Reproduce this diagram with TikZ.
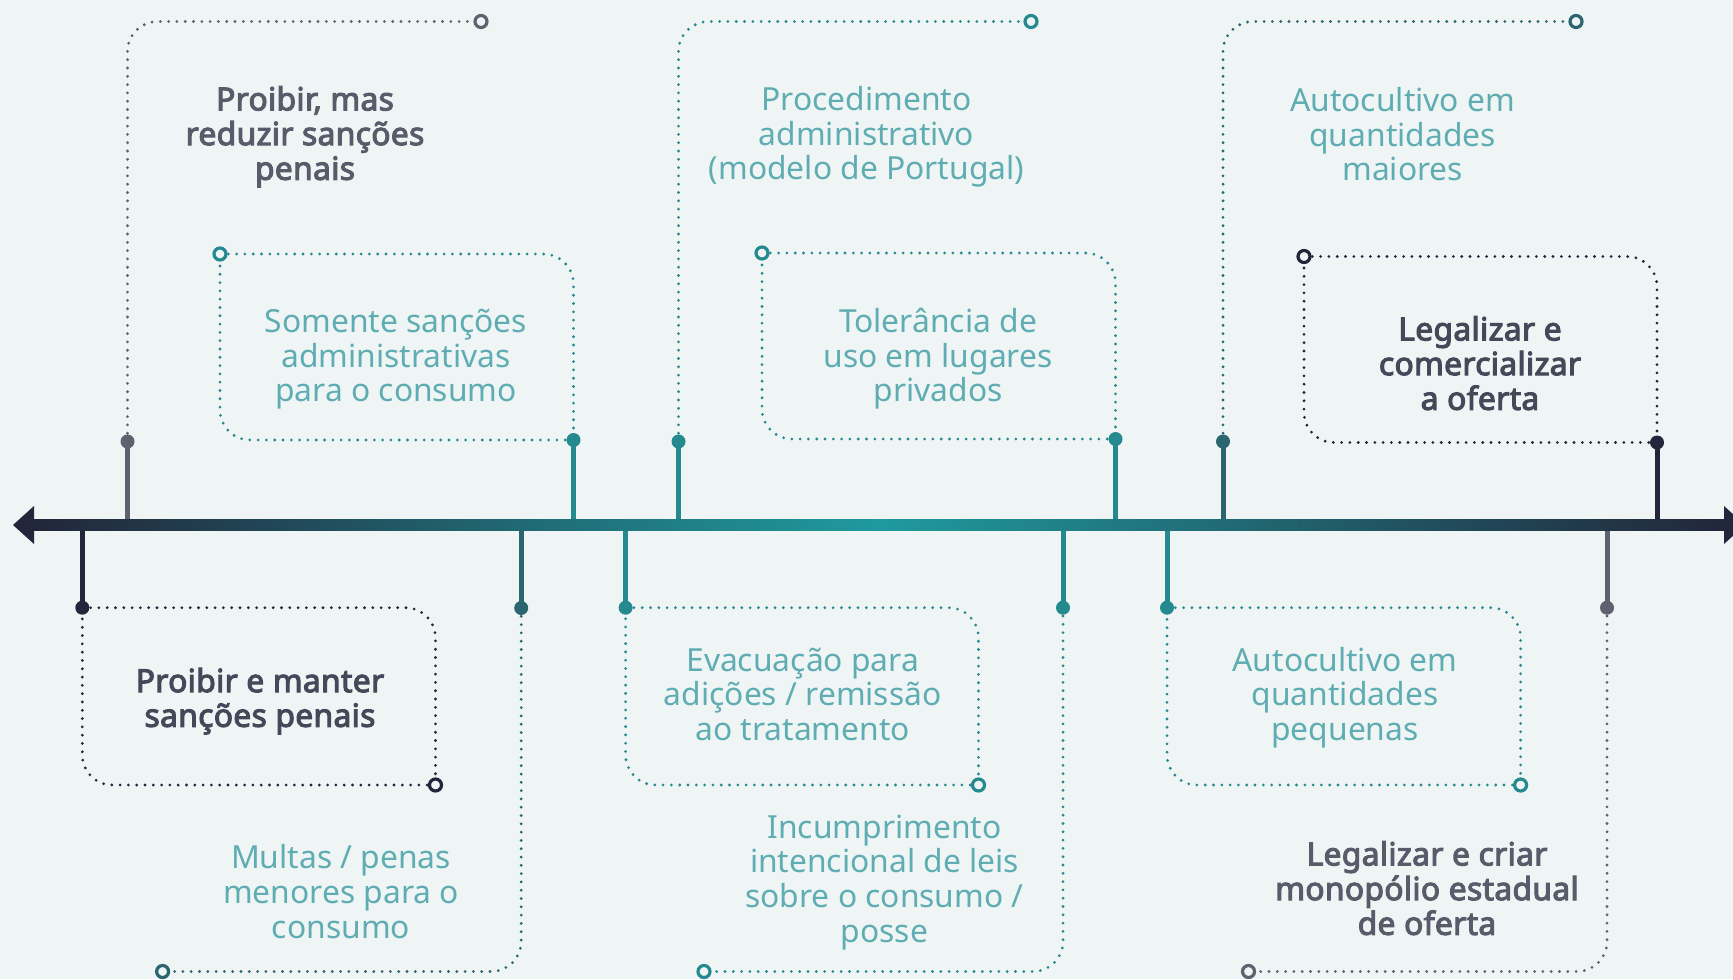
\documentclass[tikz,border=0pt]{standalone}
\usepackage{fontspec}
\setmainfont{Noto Sans}[BoldFont={Noto Sans}, BoldFeatures={FakeBold=3.4, LetterSpace=1}]
\definecolor{bg}{HTML}{EFF5F5}
\definecolor{navy}{HTML}{22263A}
\definecolor{tealc}{HTML}{258A8F}
\definecolor{dteal}{HTML}{2B6670}
\definecolor{greyc}{HTML}{5F616F}
\definecolor{tealtxt}{HTML}{5FADB2}
\definecolor{darktxt}{HTML}{444859}
\definecolor{greytxt}{HTML}{595B6A}
\definecolor{brightteal}{HTML}{1F9A9E}
\newcommand{\fs}{\fontsize{15.9pt}{17.35pt}\selectfont}
\newcommand{\tp}{\rule{0pt}{16pt}}
\begin{document}
\begin{tikzpicture}[x=0.5pt,y=-0.5pt,
  dotline/.style={line width=1.55pt, line cap=round, dash pattern=on 0pt off 4.15pt, rounded corners=15pt},
  stemline/.style={line width=2.5pt},
  knob/.style={circle, inner sep=0pt, minimum size=7pt},
  ring/.style={circle, draw, line width=1.6pt, fill=bg, inner sep=0pt, minimum size=6pt},
  labteal/.style={align=center, inner sep=0pt, anchor=north, font=\fs, text=tealtxt},
  labdark/.style={align=center, inner sep=0pt, anchor=north, font=\fs\bfseries, text=darktxt},
  labgrey/.style={align=center, inner sep=0pt, anchor=north, font=\fs\bfseries, text=greytxt},
]
\useasboundingbox (0,0) rectangle (1733,979);
\fill[bg] (0,0) rectangle (1733,979);

% axis
\coordinate (lineL) at (13,525);
\coordinate (lineR) at (1745,525);

% top points
\coordinate (t1d) at (127.5,441.5); \coordinate (t1c) at (481,21.5);
\coordinate (t2d) at (573.5,440);   \coordinate (t2c) at (220,254);
\coordinate (t3d) at (678.5,441.5); \coordinate (t3c) at (1031,21.5);
\coordinate (t4d) at (1115.5,439);  \coordinate (t4c) at (762,253);
\coordinate (t5d) at (1223,441.5);  \coordinate (t5c) at (1576,21.5);
\coordinate (t6d) at (1657,442.5);  \coordinate (t6c) at (1304,256.5);
% bottom points
\coordinate (b1d) at (82.3,607.7);  \coordinate (b1c) at (435.5,785);
\coordinate (b2d) at (521.2,608);   \coordinate (b2c) at (162.6,971.5);
\coordinate (b3d) at (625.6,607.7); \coordinate (b3c) at (978.5,785);
\coordinate (b4d) at (1063,607.7);  \coordinate (b4c) at (704,971.5);
\coordinate (b5d) at (1167,607.7);  \coordinate (b5c) at (1520.6,785);
\coordinate (b6d) at (1607,607.7);  \coordinate (b6c) at (1248.5,971.5);

% dotted connectors
\draw[dotline, greyc] (t1d) |- (t1c);
\draw[dotline, tealc] (t2c) -| (t2d); \draw[dotline, tealc] (t2d) -| (t2c);
\draw[dotline, tealc] (t3d) |- (t3c);
\draw[dotline, tealc] (t4c) -| (t4d); \draw[dotline, tealc] (t4d) -| (t4c);
\draw[dotline, dteal] (t5d) |- (t5c);
\draw[dotline, navy] (t6c) -| (t6d); \draw[dotline, navy] (t6d) -| (t6c);

\draw[dotline, navy] (b1d) -| (b1c); \draw[dotline, navy] (b1c) -| (b1d);
\draw[dotline, dteal] (b2d) |- (b2c);
\draw[dotline, tealc] (b3d) -| (b3c); \draw[dotline, tealc] (b3c) -| (b3d);
\draw[dotline, tealc] (b4d) |- (b4c);
\draw[dotline, tealc] (b5d) -| (b5c); \draw[dotline, tealc] (b5c) -| (b5d);
\draw[dotline, greyc] (b6d) |- (b6c);

% stems
\draw[stemline, greyc] (t1d) -- (t1d |- lineL);
\draw[stemline, tealc] (t2d) -- (t2d |- lineL);
\draw[stemline, tealc] (t3d) -- (t3d |- lineL);
\draw[stemline, tealc] (t4d) -- (t4d |- lineL);
\draw[stemline, dteal] (t5d) -- (t5d |- lineL);
\draw[stemline, navy] (t6d) -- (t6d |- lineL);
\draw[stemline, navy] (b1d) -- (b1d |- lineL);
\draw[stemline, dteal] (b2d) -- (b2d |- lineL);
\draw[stemline, tealc] (b3d) -- (b3d |- lineL);
\draw[stemline, tealc] (b4d) -- (b4d |- lineL);
\draw[stemline, tealc] (b5d) -- (b5d |- lineL);
\draw[stemline, greyc] (b6d) -- (b6d |- lineL);

% main line with gradient
\fill[left color=navy, right color=navy, middle color=brightteal] ([xshift=10.5pt,yshift=2.75pt]lineL) rectangle ([xshift=-10.5pt,yshift=-2.75pt]lineR);
\fill[navy] (lineL) -- ++(21,-19) -- ++(0,38) -- cycle;
\fill[navy] (lineR) -- ++(-21,-19) -- ++(0,38) -- cycle;

% knobs
\node[knob, fill=greyc] (t1k) at (t1d) {};
\node[knob, fill=tealc] (t2k) at (t2d) {};
\node[knob, fill=tealc] (t3k) at (t3d) {};
\node[knob, fill=tealc] (t4k) at (t4d) {};
\node[knob, fill=dteal] (t5k) at (t5d) {};
\node[knob, fill=navy] (t6k) at (t6d) {};
\node[knob, fill=navy] (b1k) at (b1d) {};
\node[knob, fill=dteal] (b2k) at (b2d) {};
\node[knob, fill=tealc] (b3k) at (b3d) {};
\node[knob, fill=tealc] (b4k) at (b4d) {};
\node[knob, fill=tealc] (b5k) at (b5d) {};
\node[knob, fill=greyc] (b6k) at (b6d) {};
% rings
\node[ring, draw=greyc] (t1r) at (t1c) {};
\node[ring, draw=tealc] (t2r) at (t2c) {};
\node[ring, draw=tealc] (t3r) at (t3c) {};
\node[ring, draw=tealc] (t4r) at (t4c) {};
\node[ring, draw=dteal] (t5r) at (t5c) {};
\node[ring, draw=navy] (t6r) at (t6c) {};
\node[ring, draw=navy] (b1r) at (b1c) {};
\node[ring, draw=dteal] (b2r) at (b2c) {};
\node[ring, draw=tealc] (b3r) at (b3c) {};
\node[ring, draw=tealc] (b4r) at (b4c) {};
\node[ring, draw=tealc] (b5r) at (b5c) {};
\node[ring, draw=greyc] (b6r) at (b6c) {};

% labels (first-line baseline minus 32 units)
\node[labgrey] (t1l) at (305,78) {\tp Proibir, mas\\reduzir sanções\\penais};
\node[labteal] (t2l) at (396,300) {\tp Somente sanções\\administrativas\\para o consumo};
\node[labteal] (t3l) at (866.5,78) {\tp Procedimento\\administrativo\\(modelo de Portugal)};
\node[labteal] (t4l) at (938,300) {\tp Tolerância de\\uso em lugares\\privados};
\node[labteal] (t5l) at (1402.6,79) {\tp Autocultivo em\\quantidades\\maiores};
\node[labdark] (t6l) at (1480,308) {\tp Legalizar e\\comercializar\\a oferta};
\node[labdark] (b1l) at (260,659.7) {\tp Proibir e manter\\sanções penais};
\node[labteal] (b2l) at (341,836.3) {\tp Multas / penas\\menores para o\\consumo};
\node[labteal] (b3l) at (802.7,638.7) {\tp Evacuação para\\adições / remissão\\ao tratamento};
\node[labteal] (b4l) at (884.5,805.7) {\tp Incumprimento\\intencional de leis\\sobre o consumo /\\posse};
\node[labteal] (b5l) at (1345,638.7) {\tp Autocultivo em\\quantidades\\pequenas};
\node[labgrey] (b6l) at (1427,833) {\tp Legalizar e criar\\monopólio estadual\\de oferta};
\end{tikzpicture}
\end{document}
